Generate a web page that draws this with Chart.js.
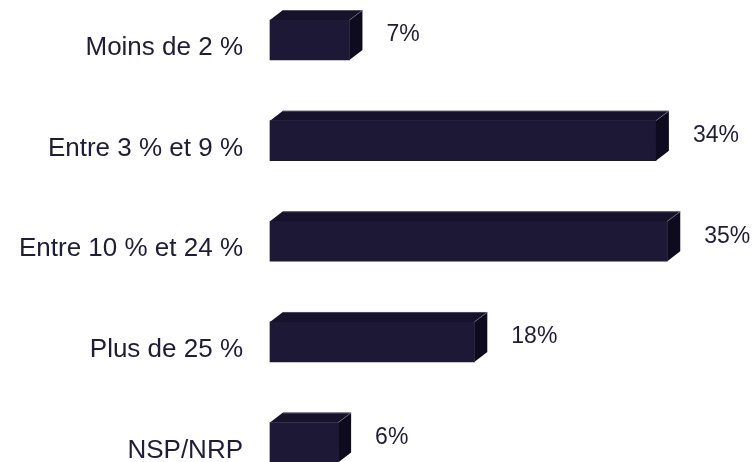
<!DOCTYPE html>
<html>
<head>
<meta charset="utf-8">
<script src="https://cdn.jsdelivr.net/npm/chart.js@4.4.0/dist/chart.umd.min.js"></script>
<style>
html,body{margin:0;padding:0;background:#fff;}
canvas{display:block;}
</style>
</head>
<body>
<canvas id="c" width="753" height="462"></canvas>
<script>
const categories = ["Moins de 2 %", "Entre 3 % et 9 %", "Entre 10 % et 24 %", "Plus de 25 %", "NSP/NRP"];
const values = [7, 34, 35, 18, 6];
const valueLabels = ["7%", "34%", "35%", "18%", "6%"];

const FRONT = '#1d1835';
const TOP = '#16122b';
const SIDE = '#0e0b1e';
const TEXT = '#1f1c38';
const DX = 13, DY = 10;

const bar3d = {
  id: 'bar3d',
  afterDatasetsDraw(chart) {
    const ctx = chart.ctx;
    const meta = chart.getDatasetMeta(0);
    meta.data.forEach((el, i) => {
      const p = el.getProps(['x', 'y', 'base', 'height'], true);
      const t = p.y - p.height / 2, b = p.y + p.height / 2;
      ctx.save();
      ctx.fillStyle = TOP;
      ctx.beginPath();
      ctx.moveTo(p.base, t);
      ctx.lineTo(p.base + DX, t - DY);
      ctx.lineTo(p.x + DX, t - DY);
      ctx.lineTo(p.x, t);
      ctx.closePath();
      ctx.fill();
      ctx.fillStyle = SIDE;
      ctx.beginPath();
      ctx.moveTo(p.x, t);
      ctx.lineTo(p.x + DX, t - DY);
      ctx.lineTo(p.x + DX, b - DY);
      ctx.lineTo(p.x, b);
      ctx.closePath();
      ctx.fill();
      ctx.strokeStyle = 'rgba(140,140,160,0.5)';
      ctx.lineWidth = 1;
      ctx.beginPath();
      ctx.moveTo(p.base + DX, t - DY + 0.5);
      ctx.lineTo(p.x + DX, t - DY + 0.5);
      ctx.lineTo(p.x, t);
      ctx.stroke();
      ctx.fillStyle = TEXT;
      ctx.font = '23px "Liberation Sans", Arial, sans-serif';
      ctx.textAlign = 'left';
      ctx.textBaseline = 'middle';
      ctx.fillText(valueLabels[i], p.x + 37, p.y - 5);
      ctx.restore();
    });
  }
};

new Chart(document.getElementById('c'), {
  type: 'bar',
  data: {
    labels: categories,
    datasets: [{
      data: values,
      backgroundColor: FRONT,
      borderWidth: 0,
      barThickness: 40,
      clip: false
    }]
  },
  options: {
    indexAxis: 'y',
    responsive: false,
    animation: false,
    devicePixelRatio: 1,
    layout: { padding: { left: 0, right: 29, top: 40, bottom: 19.5 } },
    plugins: { legend: { display: false }, tooltip: { enabled: false } },
    scales: {
      x: { display: false, min: 0, max: 40 },
      y: {
        offset: false,
        grid: { display: false, drawTicks: false },
        border: { display: false },
        afterFit(scale) { scale.width = 270; scale.paddingTop = 0; scale.paddingBottom = 0; },
        ticks: {
          color: TEXT,
          padding: 27,
          labelOffset: 8,
          autoSkip: false,
          font: { family: '"Liberation Sans", Arial, sans-serif', size: 26 }
        }
      }
    }
  },
  plugins: [bar3d]
});
</script>
</body>
</html>
